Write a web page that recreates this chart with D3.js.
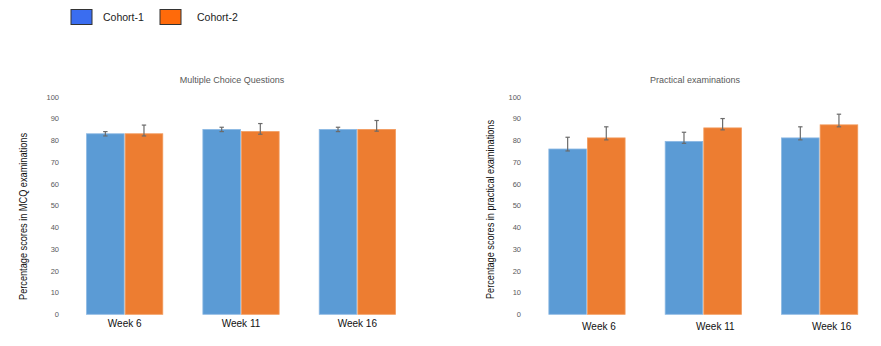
<!DOCTYPE html>
<html>
<head>
<meta charset="utf-8">
<script src="https://cdn.jsdelivr.net/npm/d3@7"></script>
<style>
body { margin: 0; background: #fff; }
svg { font-family: "Liberation Sans", Arial, sans-serif; }
</style>
</head>
<body>
<svg id="chart" width="881" height="346"></svg>
<script>
var weeks = ["Week 6", "Week 11", "Week 16"];
var cohorts = ["Cohort-1", "Cohort-2"];
var yTicks = [0, 10, 20, 30, 40, 50, 60, 70, 80, 90, 100];

// MCQ scores (bar value, top of error bar, bottom of error bar)
var mcq1 = [83, 85, 85];
var mcq1Hi = [84, 86, 86];
var mcq1Lo = [82, 84, 84];
var mcq2 = [83, 84, 85];
var mcq2Hi = [87, 87.7, 89.1];
var mcq2Lo = [82, 82.8, 84.2];

// practical scores
var prac1 = [76, 79.5, 81.1];
var prac1Hi = [81.4, 83.7, 86.2];
var prac1Lo = [75.1, 78.6, 80.2];
var prac2 = [81.1, 85.7, 87.1];
var prac2Hi = [86.2, 90, 92];
var prac2Lo = [80.2, 84.8, 86.2];

var barColors = ["#5b9bd5", "#ed7d31"];
var legendColors = ["#3a6df0", "#ff6a0a"];

var svg = d3.select("#chart");

// legend
var legend = svg.append("g")
legend.selectAll("rect")
    .data(cohorts)
    .enter()
    .append("rect")
    .attr("x", function(d, i) { return 71 + i * 89; })
    .attr("y", 9.5)
    .attr("width", 21)
    .attr("height", 15)
    .attr("fill", function(d, i) { return legendColors[i]; })
    .attr("stroke", "#333")
    .attr("stroke-width", 1);
legend.selectAll("text")
    .data(cohorts)
    .enter()
    .append("text")
    .attr("x", function(d, i) { return 103 + i * 94; })
    .attr("y", 21)
    .attr("font-size", "10.5px")
    .attr("fill", "#222")
    .text(function(d) { return d; });

var drawPanel = function(opts)
{
    var g = svg.append("g");

    var xScale = d3.scaleBand()
        .domain(weeks)
        .range(opts.xRange)
        .paddingInner(0.336)
        .paddingOuter(0.168);

    var yScale = d3.scaleLinear()
        .domain([0, 100])
        .range([314.3, 96.8]);

    var inner = d3.scaleBand()
        .domain(cohorts)
        .range([0, xScale.bandwidth()]);

    // title
    g.append("text")
        .attr("x", opts.titleX)
        .attr("y", 83)
        .attr("text-anchor", "middle")
        .attr("font-size", "9px")
        .attr("fill", "#595959")
        .text(opts.title);

    // y axis (labels only)
    var yAxis = d3.axisLeft(yScale)
        .tickValues(yTicks)
        .tickSize(0)
        .tickPadding(0);
    var ya = g.append("g")
        .attr("transform", "translate(" + opts.yLabelX + ",0)")
        .call(yAxis);
    ya.select(".domain").remove();
    ya.selectAll("text")
        .attr("font-size", "7.5px")
        .attr("fill", "#595959")
        .attr("font-family", "Liberation Sans, Arial, sans-serif");

    // y title
    g.append("text")
        .attr("transform", "translate(" + opts.yTitleX + "," + opts.yTitleY + ") rotate(-90)")
        .attr("text-anchor", "middle")
        .attr("font-size", "10px")
        .attr("fill", "#111")
        .attr("textLength", opts.yTitleLen)
        .attr("lengthAdjust", "spacingAndGlyphs")
        .text(opts.yTitle);

    // x axis labels
    var xAxis = d3.axisBottom(xScale).tickSize(0).tickPadding(0);
    var xa = g.append("g")
        .attr("transform", "translate(" + opts.xLabelShift + "," + opts.xLabelY + ")")
        .call(xAxis);
    xa.select(".domain").remove();
    xa.selectAll("text")
        .attr("font-size", "10px")
        .attr("fill", "#111")
        .attr("font-family", "Liberation Sans, Arial, sans-serif");

    var series = [opts.s1, opts.s2];
    var his = [opts.hi1, opts.hi2];
    var los = [opts.lo1, opts.lo2];

    series.forEach(function(vals, s)
    {
        var rows = weeks.map(function(w, i) {
            return {week: w, v: vals[i], hi: his[s][i], lo: los[s][i]};
        });

        g.selectAll(".bar" + s)
            .data(rows)
            .enter()
            .append("rect")
            .attr("x", function(d) { return xScale(d.week) + inner(cohorts[s]) + 0.5; })
            .attr("y", function(d) { return yScale(d.v); })
            .attr("width", inner.bandwidth() - 1)
            .attr("height", function(d) { return yScale(0) - yScale(d.v); })
            .attr("fill", barColors[s])
            .attr("stroke", s == 0 ? "#8cb8e3" : "#f29a5c")
            .attr("stroke-width", 0.8);

        var cx = function(d) { return xScale(d.week) + inner(cohorts[s]) + inner.bandwidth() / 2; };

        var eb = g.selectAll(".err" + s)
            .data(rows)
            .enter()
            .append("g")
            .attr("stroke", "#6b6b6b")
            .attr("stroke-width", 1.2);
        eb.append("line")
            .attr("x1", cx).attr("x2", cx)
            .attr("y1", function(d) { return yScale(d.hi); })
            .attr("y2", function(d) { return yScale(d.lo); });
        eb.append("line")
            .attr("x1", function(d) { return cx(d) - 2.2; })
            .attr("x2", function(d) { return cx(d) + 2.2; })
            .attr("y1", function(d) { return yScale(d.hi); })
            .attr("y2", function(d) { return yScale(d.hi); });
        eb.append("line")
            .attr("x1", function(d) { return cx(d) - 2.2; })
            .attr("x2", function(d) { return cx(d) + 2.2; })
            .attr("y1", function(d) { return yScale(d.lo); })
            .attr("y2", function(d) { return yScale(d.lo); });
    });
}

drawPanel({
    xRange: [66.5, 415.5],
    title: "Multiple Choice Questions",
    titleX: 232,
    yLabelX: 59,
    yTitle: "Percentage scores in MCQ examinations",
    yTitleLen: 167,
    yTitleX: 27,
    yTitleY: 216.5,
    xLabelShift: 0,
    xLabelY: 320,
    s1: mcq1, hi1: mcq1Hi, lo1: mcq1Lo,
    s2: mcq2, hi2: mcq2Hi, lo2: mcq2Lo
});

drawPanel({
    xRange: [528.8, 877.8],
    title: "Practical examinations",
    titleX: 695,
    yLabelX: 521,
    yTitle: "Percentage scores in practical examinations",
    yTitleLen: 179,
    yTitleX: 494,
    yTitleY: 209.5,
    xLabelShift: 12,
    xLabelY: 323,
    s1: prac1, hi1: prac1Hi, lo1: prac1Lo,
    s2: prac2, hi2: prac2Hi, lo2: prac2Lo
});
</script>
</body>
</html>
